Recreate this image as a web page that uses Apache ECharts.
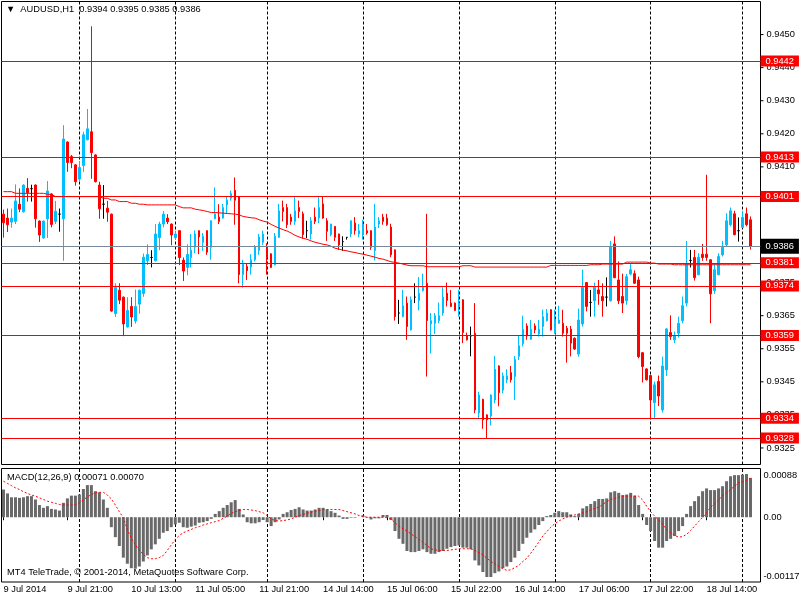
<!DOCTYPE html>
<html>
<head>
<meta charset="utf-8">
<title>AUDUSD,H1</title>
<script src="https://cdn.jsdelivr.net/npm/echarts@6.0.0/dist/echarts.min.js"></script>
<style>
  html, body { margin: 0; padding: 0; background: #fff; }
  #chart { width: 800px; height: 600px; }
</style>
</head>
<body>
<div id="chart"></div>
<script>
// AUDUSD H1 (MT4) - velas + MA + niveles, MACD abajo

const symbolName = "AUDUSD,H1";

// una fila por barra: [open, high, low, close]
const ohlc = [
  [0.93957, 0.93971, 0.93886, 0.93931], [0.93945, 0.93974, 0.93903, 0.93925], [0.93933, 0.93974, 0.93916, 0.93945],
  [0.93935, 0.94047, 0.93927, 0.93997], [0.93987, 0.94035, 0.93963, 0.93972], [0.93964, 0.94047, 0.93962, 0.94045],
  [0.94035, 0.94066, 0.93995, 0.94022], [0.94034, 0.94046, 0.93995, 0.94034], [0.94045, 0.94047, 0.93916, 0.93943],
  [0.93936, 0.93938, 0.93873, 0.93894], [0.93885, 0.93938, 0.93883, 0.93936], [0.93943, 0.94057, 0.93885, 0.94027],
  [0.94018, 0.94020, 0.93917, 0.93926], [0.93935, 0.93997, 0.93927, 0.93966], [0.93957, 0.93974, 0.93904, 0.93957],
  [0.93943, 0.94226, 0.93816, 0.94184], [0.94175, 0.94177, 0.94085, 0.94113], [0.94131, 0.94136, 0.94096, 0.94113],
  [0.94106, 0.94108, 0.94043, 0.94055], [0.94063, 0.94116, 0.94055, 0.94098], [0.94104, 0.94206, 0.94085, 0.94197],
  [0.94182, 0.94275, 0.94180, 0.94215], [0.94206, 0.94525, 0.94064, 0.94143], [0.94136, 0.94138, 0.94053, 0.94055],
  [0.94045, 0.94055, 0.93943, 0.93973], [0.93987, 0.94045, 0.93943, 0.93987], [0.93975, 0.93997, 0.93934, 0.93963],
  [0.93957, 0.93959, 0.93662, 0.93664], [0.93656, 0.93748, 0.93646, 0.93735], [0.93727, 0.93748, 0.93685, 0.93697],
  [0.93706, 0.93708, 0.93588, 0.93625], [0.93616, 0.93706, 0.93614, 0.93666], [0.93678, 0.93706, 0.93616, 0.93646],
  [0.93634, 0.93729, 0.93626, 0.93678], [0.93685, 0.93729, 0.93656, 0.93727], [0.93717, 0.93838, 0.93707, 0.93827],
  [0.93816, 0.93866, 0.93803, 0.93835], [0.93826, 0.93848, 0.93796, 0.93826], [0.93816, 0.93927, 0.93814, 0.93897],
  [0.93886, 0.93934, 0.93848, 0.93927], [0.93927, 0.93966, 0.93917, 0.93957], [0.93945, 0.93957, 0.93927, 0.93934],
  [0.93927, 0.93929, 0.93863, 0.93894], [0.93886, 0.93907, 0.93880, 0.93897], [0.93907, 0.93909, 0.93803, 0.93826],
  [0.93818, 0.93826, 0.93755, 0.93785], [0.93796, 0.93866, 0.93772, 0.93835], [0.93826, 0.93897, 0.93796, 0.93848],
  [0.93857, 0.93908, 0.93839, 0.93897], [0.93907, 0.93908, 0.93836, 0.93888], [0.93872, 0.93900, 0.93846, 0.93890],
  [0.93907, 0.93908, 0.93834, 0.93842], [0.93857, 0.93938, 0.93819, 0.93937], [0.93943, 0.94038, 0.93942, 0.93958],
  [0.93948, 0.93987, 0.93927, 0.93935], [0.93945, 0.93988, 0.93944, 0.93977], [0.93985, 0.94009, 0.93958, 0.93999],
  [0.94005, 0.94028, 0.93998, 0.94019], [0.94029, 0.94068, 0.93925, 0.93999], [0.94009, 0.94010, 0.93748, 0.93774],
  [0.93774, 0.93819, 0.93735, 0.93806], [0.93799, 0.93809, 0.93758, 0.93786], [0.93797, 0.93836, 0.93774, 0.93819],
  [0.93819, 0.93864, 0.93814, 0.93859], [0.93847, 0.93897, 0.93834, 0.93888], [0.93872, 0.93907, 0.93864, 0.93897],
  [0.93859, 0.93869, 0.93774, 0.93826], [0.93837, 0.93839, 0.93794, 0.93796], [0.93804, 0.93900, 0.93802, 0.93890],
  [0.93887, 0.93988, 0.93885, 0.93967], [0.93977, 0.93998, 0.93935, 0.93965], [0.93977, 0.93988, 0.93915, 0.93925],
  [0.93948, 0.93958, 0.93925, 0.93935], [0.93935, 0.94009, 0.93925, 0.93967], [0.93977, 0.93998, 0.93945, 0.93965],
  [0.93958, 0.93965, 0.93883, 0.93895], [0.93907, 0.93937, 0.93885, 0.93907], [0.93897, 0.93948, 0.93880, 0.93937],
  [0.93948, 0.93977, 0.93927, 0.93935], [0.93945, 0.94009, 0.93930, 0.93977], [0.93988, 0.94009, 0.93943, 0.93945],
  [0.93937, 0.93945, 0.93876, 0.93905], [0.93895, 0.93928, 0.93890, 0.93927], [0.93920, 0.93921, 0.93876, 0.93887],
  [0.93897, 0.93898, 0.93849, 0.93864], [0.93874, 0.93890, 0.93846, 0.93874], [0.93887, 0.93887, 0.93880, 0.93887],
  [0.93897, 0.93938, 0.93887, 0.93937], [0.93930, 0.93948, 0.93895, 0.93907], [0.93897, 0.93927, 0.93887, 0.93907],
  [0.93897, 0.93940, 0.93880, 0.93927], [0.93907, 0.93927, 0.93895, 0.93900], [0.93907, 0.93908, 0.93849, 0.93857],
  [0.93847, 0.93988, 0.93817, 0.93918], [0.93927, 0.93948, 0.93915, 0.93937], [0.93948, 0.93958, 0.93925, 0.93935],
  [0.93945, 0.93958, 0.93922, 0.93925], [0.93918, 0.93928, 0.93827, 0.93834], [0.93849, 0.93850, 0.93635, 0.93647],
  [0.93658, 0.93698, 0.93625, 0.93658], [0.93647, 0.93728, 0.93645, 0.93680], [0.93688, 0.93708, 0.93577, 0.93617],
  [0.93607, 0.93708, 0.93605, 0.93698], [0.93706, 0.93748, 0.93688, 0.93706], [0.93696, 0.93767, 0.93666, 0.93718],
  [0.93726, 0.93777, 0.93723, 0.93736], [0.93748, 0.93958, 0.93466, 0.93635], [0.93625, 0.93658, 0.93536, 0.93635],
  [0.93627, 0.93658, 0.93595, 0.93650], [0.93635, 0.93690, 0.93627, 0.93650], [0.93658, 0.93736, 0.93650, 0.93706],
  [0.93718, 0.93750, 0.93678, 0.93696], [0.93688, 0.93728, 0.93676, 0.93678], [0.93688, 0.93690, 0.93664, 0.93666],
  [0.93678, 0.93728, 0.93647, 0.93688], [0.93698, 0.93700, 0.93567, 0.93599], [0.93589, 0.93599, 0.93575, 0.93577],
  [0.93589, 0.93617, 0.93527, 0.93589], [0.93597, 0.93688, 0.93355, 0.93365], [0.93356, 0.93420, 0.93337, 0.93410],
  [0.93397, 0.93399, 0.93308, 0.93335], [0.93350, 0.93352, 0.93279, 0.93335], [0.93347, 0.93412, 0.93318, 0.93410],
  [0.93395, 0.93528, 0.93385, 0.93488], [0.93498, 0.93500, 0.93376, 0.93417], [0.93425, 0.93478, 0.93415, 0.93468],
  [0.93456, 0.93488, 0.93446, 0.93468], [0.93478, 0.93498, 0.93448, 0.93456], [0.93466, 0.93528, 0.93395, 0.93518],
  [0.93527, 0.93589, 0.93516, 0.93559], [0.93565, 0.93650, 0.93557, 0.93609], [0.93619, 0.93627, 0.93577, 0.93589],
  [0.93579, 0.93637, 0.93577, 0.93609], [0.93619, 0.93627, 0.93597, 0.93607], [0.93595, 0.93637, 0.93587, 0.93609],
  [0.93617, 0.93668, 0.93587, 0.93647], [0.93635, 0.93670, 0.93632, 0.93658], [0.93668, 0.93670, 0.93605, 0.93607],
  [0.93597, 0.93668, 0.93595, 0.93637], [0.93627, 0.93680, 0.93625, 0.93637], [0.93627, 0.93668, 0.93587, 0.93597],
  [0.93612, 0.93619, 0.93508, 0.93597], [0.93609, 0.93619, 0.93527, 0.93567], [0.93582, 0.93584, 0.93547, 0.93549],
  [0.93534, 0.93671, 0.93526, 0.93637], [0.93625, 0.93789, 0.93617, 0.93736], [0.93750, 0.93752, 0.93663, 0.93678],
  [0.93690, 0.93728, 0.93647, 0.93690], [0.93695, 0.93750, 0.93647, 0.93736], [0.93728, 0.93758, 0.93683, 0.93716],
  [0.93708, 0.93748, 0.93647, 0.93695], [0.93706, 0.93766, 0.93678, 0.93706], [0.93695, 0.93876, 0.93693, 0.93857],
  [0.93867, 0.93890, 0.93763, 0.93765], [0.93758, 0.93814, 0.93685, 0.93695], [0.93708, 0.93777, 0.93658, 0.93688],
  [0.93695, 0.93776, 0.93683, 0.93768], [0.93776, 0.93806, 0.93772, 0.93789], [0.93777, 0.93787, 0.93746, 0.93748],
  [0.93758, 0.93768, 0.93521, 0.93526], [0.93538, 0.93540, 0.93448, 0.93496], [0.93489, 0.93491, 0.93454, 0.93456],
  [0.93469, 0.93471, 0.93340, 0.93395], [0.93387, 0.93451, 0.93340, 0.93441], [0.93451, 0.93469, 0.93377, 0.93407],
  [0.93365, 0.93526, 0.93357, 0.93498], [0.93486, 0.93612, 0.93468, 0.93610], [0.93599, 0.93651, 0.93577, 0.93587],
  [0.93577, 0.93602, 0.93567, 0.93589], [0.93597, 0.93647, 0.93584, 0.93627], [0.93635, 0.93708, 0.93627, 0.93680],
  [0.93688, 0.93876, 0.93678, 0.93807], [0.93817, 0.93849, 0.93796, 0.93817], [0.93826, 0.93849, 0.93756, 0.93765],
  [0.93774, 0.93839, 0.93772, 0.93827], [0.93836, 0.93867, 0.93816, 0.93826], [0.93836, 0.94076, 0.93816, 0.93826],
  [0.93819, 0.93821, 0.93627, 0.93716], [0.93726, 0.93809, 0.93716, 0.93789], [0.93774, 0.93839, 0.93772, 0.93829],
  [0.93834, 0.93876, 0.93829, 0.93857], [0.93864, 0.93960, 0.93859, 0.93937], [0.93925, 0.93977, 0.93920, 0.93967],
  [0.93958, 0.93967, 0.93893, 0.93895], [0.93907, 0.93947, 0.93874, 0.93907], [0.93917, 0.93967, 0.93915, 0.93947],
  [0.93958, 0.93977, 0.93920, 0.93925], [0.93940, 0.93950, 0.93850, 0.93860]
];

// media móvil (línea roja)
const maValues = [
  0.94025, 0.94025, 0.94025, 0.94020, 0.94020, 0.94020, 0.94020, 0.94020, 0.94020, 0.94020,
  0.94020, 0.94017, 0.94017, 0.94010, 0.94010, 0.94010, 0.94010, 0.94010, 0.94010, 0.94010,
  0.94010, 0.94010, 0.94010, 0.94010, 0.94010, 0.94005, 0.94005, 0.94000, 0.94000, 0.93995,
  0.93995, 0.93995, 0.93990, 0.93990, 0.93987, 0.93987, 0.93985, 0.93985, 0.93985, 0.93985,
  0.93985, 0.93985, 0.93985, 0.93985, 0.93980, 0.93976, 0.93976, 0.93976, 0.93972, 0.93970,
  0.93968, 0.93965, 0.93962, 0.93962, 0.93961, 0.93960, 0.93959, 0.93958, 0.93957, 0.93955,
  0.93950, 0.93948, 0.93946, 0.93945, 0.93940, 0.93936, 0.93933, 0.93926, 0.93920, 0.93915,
  0.93910, 0.93906, 0.93900, 0.93893, 0.93888, 0.93884, 0.93881, 0.93876, 0.93872, 0.93869,
  0.93866, 0.93864, 0.93860, 0.93854, 0.93851, 0.93848, 0.93846, 0.93843, 0.93841, 0.93838,
  0.93836, 0.93833, 0.93830, 0.93827, 0.93823, 0.93821, 0.93817, 0.93813, 0.93811, 0.93809,
  0.93806, 0.93803, 0.93801, 0.93801, 0.93801, 0.93801, 0.93798, 0.93798, 0.93798, 0.93798,
  0.93798, 0.93798, 0.93798, 0.93798, 0.93798, 0.93801, 0.93801, 0.93801, 0.93797, 0.93797,
  0.93797, 0.93797, 0.93797, 0.93797, 0.93797, 0.93797, 0.93797, 0.93797, 0.93797, 0.93797,
  0.93797, 0.93797, 0.93797, 0.93797, 0.93797, 0.93797, 0.93797, 0.93802, 0.93802, 0.93802,
  0.93802, 0.93802, 0.93802, 0.93802, 0.93802, 0.93802, 0.93802, 0.93804, 0.93804, 0.93804,
  0.93806, 0.93806, 0.93806, 0.93806, 0.93806, 0.93806, 0.93812, 0.93812, 0.93812, 0.93812,
  0.93812, 0.93812, 0.93809, 0.93809, 0.93806, 0.93806, 0.93806, 0.93806, 0.93804, 0.93804,
  0.93804, 0.93804, 0.93804, 0.93804, 0.93804, 0.93804, 0.93804, 0.93804, 0.93804, 0.93804,
  0.93804, 0.93804, 0.93804, 0.93804, 0.93804, 0.93804, 0.93804, 0.93804
];

// MACD(12,26,9): histograma y señal
const macdHist = [
  0.00050, 0.00043, 0.00036, 0.00036, 0.00035, 0.00036, 0.00038, 0.00038, 0.00032, 0.00022,
  0.00017, 0.00020, 0.00015, 0.00014, 0.00012, 0.00026, 0.00034, 0.00039, 0.00039, 0.00041,
  0.00051, 0.00058, 0.00058, 0.00047, 0.00045, 0.00032, 0.00017, -0.00018, -0.00036, -0.00052,
  -0.00073, -0.00084, -0.00092, -0.00093, -0.00089, -0.00080, -0.00069, -0.00058, -0.00049, -0.00039,
  -0.00028, -0.00025, -0.00018, -0.00013, -0.00010, -0.00018, -0.00019, -0.00017, -0.00015, -0.00010,
  -0.00009, -0.00007, -0.00003, 0.00006, 0.00011, 0.00017, 0.00022, 0.00027, 0.00031, 0.00015,
  0.00005, -0.00009, -0.00011, -0.00011, -0.00009, -0.00005, -0.00009, -0.00016, -0.00009, -0.00004,
  0.00006, 0.00009, 0.00013, 0.00015, 0.00018, 0.00014, 0.00012, 0.00012, 0.00014, 0.00017,
  0.00017, 0.00014, 0.00011, 0.00008, 0.00003, -0.00003, -0.00003, -0.00001, -0.00001, 0.00000,
  0.00003, -0.00001, -0.00004, -0.00002, -0.00002, 0.00004, 0.00004, -0.00005, -0.00025, -0.00039,
  -0.00048, -0.00061, -0.00063, -0.00063, -0.00061, -0.00058, -0.00063, -0.00066, -0.00066, -0.00063,
  -0.00061, -0.00057, -0.00054, -0.00052, -0.00051, -0.00055, -0.00055, -0.00058, -0.00078, -0.00087,
  -0.00099, -0.00108, -0.00108, -0.00101, -0.00098, -0.00092, -0.00089, -0.00081, -0.00073, -0.00061,
  -0.00048, -0.00037, -0.00028, -0.00022, -0.00014, -0.00007, 0.00002, 0.00004, 0.00008, 0.00011,
  0.00009, 0.00009, 0.00005, 0.00002, 0.00006, 0.00016, 0.00020, 0.00024, 0.00029, 0.00033,
  0.00033, 0.00034, 0.00045, 0.00047, 0.00044, 0.00040, 0.00041, 0.00044, 0.00039, 0.00022,
  0.00006, -0.00014, -0.00025, -0.00043, -0.00055, -0.00055, -0.00043, -0.00039, -0.00034, -0.00025,
  -0.00016, 0.00006, 0.00020, 0.00029, 0.00038, 0.00047, 0.00052, 0.00049, 0.00049, 0.00052,
  0.00056, 0.00065, 0.00074, 0.00076, 0.00076, 0.00077, 0.00078, 0.00071
];
const macdSignal = [
  0.00065, 0.00061, 0.00057, 0.00053, 0.00050, 0.00046, 0.00043, 0.00040, 0.00038, 0.00035,
  0.00032, 0.00029, 0.00027, 0.00025, 0.00023, 0.00022, 0.00022, 0.00022, 0.00023, 0.00026,
  0.00031, 0.00037, 0.00041, 0.00044, 0.00045, 0.00045, 0.00040, 0.00033, 0.00022, 0.00010,
  -0.00001, -0.00022, -0.00038, -0.00050, -0.00060, -0.00067, -0.00073, -0.00075, -0.00075, -0.00073,
  -0.00069, -0.00060, -0.00050, -0.00040, -0.00033, -0.00028, -0.00025, -0.00022, -0.00019, -0.00017,
  -0.00014, -0.00012, -0.00010, -0.00008, -0.00006, -0.00002, 0.00002, 0.00007, 0.00010, 0.00012,
  0.00014, 0.00014, 0.00013, 0.00012, 0.00010, 0.00008, 0.00003, -0.00003, -0.00006, -0.00007,
  -0.00006, -0.00005, -0.00003, 0.00000, 0.00003, 0.00005, 0.00007, 0.00009, 0.00011, 0.00012,
  0.00014, 0.00014, 0.00014, 0.00014, 0.00014, 0.00012, 0.00010, 0.00008, 0.00006, 0.00003,
  0.00002, 0.00000, 0.00000, 0.00000, 0.00000, 0.00000, -0.00001, -0.00003, -0.00010, -0.00016,
  -0.00021, -0.00025, -0.00030, -0.00035, -0.00040, -0.00045, -0.00051, -0.00057, -0.00059, -0.00060,
  -0.00060, -0.00060, -0.00059, -0.00058, -0.00057, -0.00057, -0.00057, -0.00057, -0.00060, -0.00064,
  -0.00068, -0.00074, -0.00080, -0.00084, -0.00089, -0.00093, -0.00096, -0.00095, -0.00091, -0.00087,
  -0.00080, -0.00074, -0.00065, -0.00055, -0.00045, -0.00034, -0.00026, -0.00018, -0.00012, -0.00007,
  -0.00003, 0.00000, 0.00003, 0.00004, 0.00006, 0.00008, 0.00010, 0.00013, 0.00016, 0.00018,
  0.00023, 0.00028, 0.00032, 0.00034, 0.00036, 0.00038, 0.00038, 0.00038, 0.00038, 0.00038,
  0.00031, 0.00020, 0.00010, 0.00002, -0.00005, -0.00013, -0.00022, -0.00028, -0.00033, -0.00036,
  -0.00035, -0.00031, -0.00024, -0.00016, -0.00008, 0.00000, 0.00008, 0.00018, 0.00024, 0.00031,
  0.00039, 0.00044, 0.00050, 0.00056, 0.00062, 0.00064, 0.00067, 0.00070
];

// líneas horizontales de niveles + línea bid
const levels = [0.9442, 0.9413, 0.9401, 0.9381, 0.9374, 0.9359, 0.9334, 0.9328];
const bidPrice = 0.9386;

// etiquetas de ejes
const priceTicks = [0.9450, 0.9440, 0.9430, 0.9420, 0.9410, 0.9400, 0.9375, 0.9365, 0.9355, 0.9345, 0.9335, 0.9325];
const macdTicks = [0.00088, 0, -0.00117];
const timeLabels = ["9 Jul 2014", "9 Jul 21:00", "10 Jul 13:00", "11 Jul 05:00", "11 Jul 21:00", "14 Jul 14:00",
                    "15 Jul 06:00", "15 Jul 22:00", "16 Jul 14:00", "17 Jul 06:00", "17 Jul 22:00", "18 Jul 14:00"];
const labelEvery = 16;              // una etiqueta de hora cada 16 barras
const gridBars = [19, 43, 66, 90, 114, 138, 162, 185];   // líneas verticales punteadas
const slotCount = 190;              // barras visibles + hueco a la derecha

const FONT = "Tahoma, 'Liberation Sans', Arial, sans-serif";
const FS = 9.3;

const chart = echarts.init(document.getElementById("chart"));

const slots = Array.from({ length: slotCount }, (_, i) => String(i));
const candleData = ohlc.map(r => [r[0], r[3], r[2], r[1]]);   // echarts: [open, close, low, high]
const last = ohlc[ohlc.length - 1];
const isLabelBar = idx => idx % labelEvery === 0 && idx / labelEvery < timeLabels.length;
const near = (a, b) => Math.abs(a - b) < 1e-7;

const option = {
  animation: false,
  backgroundColor: "#fff",
  textStyle: { fontFamily: FONT },
  title: [
    { text: "▼  " + symbolName + "  " + last.map(v => v.toFixed(4)).join(" "), left: 6, top: 5, padding: 0,
      textStyle: { fontSize: FS, fontWeight: "normal", color: "#000", fontFamily: FONT } },
    { text: "MACD(12,26,9) " + macdHist[macdHist.length - 1].toFixed(5) + " " + macdSignal[macdSignal.length - 1].toFixed(5),
      left: 7, top: 473, padding: 0,
      textStyle: { fontSize: FS, fontWeight: "normal", color: "#000", fontFamily: FONT } },
    { text: "MT4 TeleTrade, © 2001-2014, MetaQuotes Software Corp.", left: 7, top: 568, padding: 0,
      textStyle: { fontSize: FS, fontWeight: "normal", color: "#000", fontFamily: FONT } }
  ],
  grid: [
    { left: 1.5, top: 1.5, width: 759, height: 463, show: true, backgroundColor: "#fff",
      borderColor: "#000", borderWidth: 1, containLabel: false, outerBoundsMode: "none" },
    { left: 1.5, top: 468.5, width: 759, height: 113.5, show: true, backgroundColor: "#fff",
      borderColor: "#000", borderWidth: 1, containLabel: false, outerBoundsMode: "none" }
  ],
  xAxis: [
    { type: "category", gridIndex: 0, data: slots, boundaryGap: true,
      axisLine: { show: false }, axisTick: { show: false }, axisLabel: { show: false }, splitLine: { show: false } },
    { type: "category", gridIndex: 1, data: slots, boundaryGap: true,
      axisLine: { show: false },
      axisTick: { show: true, interval: isLabelBar, alignWithLabel: true, length: 3, lineStyle: { color: "#000" } },
      axisLabel: { show: true, interval: isLabelBar, align: "left", margin: 3, color: "#000", fontSize: FS, fontFamily: FONT,
                   formatter: (v, idx) => timeLabels[idx / labelEvery] || "" },
      splitLine: { show: false } }
  ],
  yAxis: [
    { type: "value", gridIndex: 0, position: "right", min: 0.9320, max: 0.9460, interval: 0.0005,
      axisLine: { show: false }, axisTick: { show: false }, splitLine: { show: false },
      axisLabel: {
        margin: 0, color: "#000", fontSize: FS, fontFamily: FONT,
        formatter: v => {
          const t = priceTicks.find(p => near(p, v));
          return t === undefined ? "" : "{t|}{v|" + t.toFixed(4) + "}";
        },
        rich: { t: { width: 3, height: 1, backgroundColor: "#000", verticalAlign: "middle" },
                v: { padding: [0, 0, 0, 3], fontSize: FS, color: "#000", fontFamily: FONT } }
      } },
    { type: "value", gridIndex: 1, position: "right", min: -0.00117, max: 0.00088, interval: 0.00117,
      axisLine: { show: false }, axisTick: { show: false }, splitLine: { show: false },
      axisLabel: {
        margin: 3, color: "#000", fontSize: FS, fontFamily: FONT, showMinLabel: true, showMaxLabel: true,
        formatter: v => {
          const t = macdTicks.find(p => near(p, v));
          if (t === undefined) return "";
          const txt = t === 0 ? "0.00" : t.toFixed(5);
          const style = t === macdTicks[0] ? "hi" : (t === macdTicks[2] ? "lo" : "mid");
          return "{" + style + "|" + txt + "}";
        },
        rich: { hi: { padding: [14, 0, 0, 0] }, lo: { padding: [0, 0, 11, 0] }, mid: {} }
      } }
  ],
  series: [
    {
      name: "AUDUSD", type: "candlestick", xAxisIndex: 0, yAxisIndex: 0,
      data: candleData, barWidth: 2,
      itemStyle: { color: "#00BFFF", color0: "#FF0000", borderColor: "#00BFFF", borderColor0: "#FF0000",
                   borderColorDoji: "#000", borderWidth: 1 },
      markLine: {
        silent: true, z: 1, symbol: ["none", "none"], animation: false,
        label: { show: false },
        lineStyle: { color: "#000", type: [3, 2], width: 1 },
        data: gridBars.map(i => ({ xAxis: i }))
      }
    },
    {
      name: "MA", type: "line", xAxisIndex: 0, yAxisIndex: 0,
      data: maValues, symbol: "none", lineStyle: { color: "#FF0000", width: 1 }, itemStyle: { color: "#FF0000" },
      markLine: {
        silent: true, symbol: ["none", "none"], animation: false, precision: 5,
        label: { show: true, position: "end", distance: 0, color: "#fff", fontSize: FS, fontFamily: FONT,
                 padding: [1, 5, 0, 5], lineHeight: 10 },
        lineStyle: { color: "#FF0000", type: "solid", width: 1 },
        data: levels.map(v => ({ yAxis: v, label: { formatter: v.toFixed(4), backgroundColor: "#FF0000" } }))
          .concat([{ yAxis: bidPrice, lineStyle: { color: "#778899" },
                     label: { formatter: bidPrice.toFixed(4), backgroundColor: "#000", padding: [3, 5, 2, 5] } }])
      }
    },
    {
      name: "MACD", type: "bar", xAxisIndex: 1, yAxisIndex: 1,
      data: macdHist, barWidth: 3, itemStyle: { color: "#696969" },
      markLine: {
        silent: true, z: 1, symbol: ["none", "none"], animation: false,
        label: { show: false },
        lineStyle: { color: "#000", type: [3, 2], width: 1 },
        data: gridBars.map(i => ({ xAxis: i }))
      }
    },
    {
      name: "Signal", type: "line", xAxisIndex: 1, yAxisIndex: 1,
      data: macdSignal, symbol: "none", lineStyle: { color: "#FF0000", width: 1, type: [2, 2] }
    }
  ]
};

chart.setOption(option);
</script>
</body>
</html>
